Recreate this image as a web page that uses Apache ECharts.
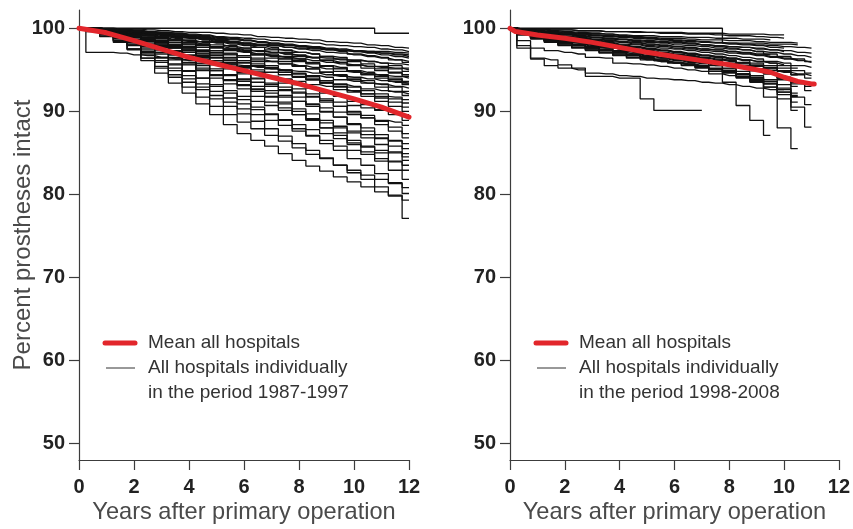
<!DOCTYPE html>
<html><head><meta charset="utf-8">
<script src="https://cdn.jsdelivr.net/npm/echarts@6/dist/echarts.min.js"></script>
<style>html,body{margin:0;padding:0;background:#fff}#c{width:853px;height:529px}</style>
</head><body><div id="c"></div>
<script>
// ---------- data ----------
const yearsHalf = [0,0.5,1,1.5,2,2.5,3,3.5,4,4.5,5,5.5,6,6.5,7,7.5,8,8.5,9,9.5,10,10.5,11,11.5,12];
const yTickValues = [50,60,70,80,90,100];
const xTickValues = [0,2,4,6,8,10,12];

const meanYearsA = [0,1,2,3,4,5,6,7,8,9,10,11,12];
const meanA = [100,99.45,98.5,97.5,96.5,95.7,94.9,94.1,93.3,92.4,91.5,90.5,89.3];
const meanYearsB = [0,0.2,1,2,3,4,5,6,7,8,9,9.5,10,10.5,11,11.1];
const meanB = [100,99.6,99.2,98.8,98.3,97.7,97.1,96.6,96.1,95.6,95.0,94.7,94.1,93.6,93.3,93.3];

// individual hospitals 1987-1997 (values every half year)
const hospitalsA = [
[100,100,100,100,100,100,100,100,100,100,100,100,100,100,100,100,100,100,100,100,100,100,99.4,99.4,99.4],
[100,97.1,97.1,97.0,96.8,96.7,96.5,96.3,96.1,96.0,95.8,95.6,95.5,95.3,95.1,94.9,94.8,94.6,94.4,94.2,94.1,93.9,93.7,93.5,93.4],
[100,100,100,99.9,99.9,99.8,99.7,99.6,99.5,99.5,99.4,99.3,99.2,99.0,98.9,98.8,98.7,98.6,98.4,98.3,98.2,98.0,97.9,97.7,97.6],
[100,100,99.9,99.8,99.7,99.6,99.5,99.4,99.3,99.2,99.0,98.9,98.8,98.7,98.5,98.4,98.3,98.2,98.0,97.9,97.8,97.7,97.5,97.4,97.2],
[100,99.9,99.8,99.7,99.6,99.4,99.2,99.0,98.8,98.6,98.4,98.3,98.1,98.0,97.9,97.7,97.6,97.5,97.4,97.3,97.2,97.1,97.0,96.9,96.8],
[100,100,99.9,99.8,99.6,99.5,99.4,99.2,99.1,98.9,98.7,98.6,98.5,98.3,98.1,98.0,97.8,97.7,97.5,97.3,97.2,97.0,96.8,96.6,96.4],
[100,100,99.9,99.8,99.8,99.6,99.5,99.4,99.2,99.1,98.9,98.8,98.6,98.4,98.2,98.0,97.8,97.6,97.4,97.2,96.9,96.7,96.5,96.2,96.0],
[100,99.9,99.8,99.6,99.4,99.2,98.9,98.6,98.4,98.1,97.8,97.6,97.4,97.2,97.1,96.9,96.7,96.5,96.4,96.2,96.1,96.0,95.8,95.7,95.6],
[100,100,99.9,99.7,99.5,99.3,99.1,98.9,98.8,98.6,98.3,98.1,97.9,97.7,97.5,97.3,97.1,96.9,96.6,96.5,96.2,96.0,95.8,95.5,95.2],
[100,100,99.9,99.8,99.7,99.5,99.4,99.2,99.0,98.8,98.6,98.4,98.2,97.9,97.7,97.4,97.1,96.9,96.6,96.3,96.0,95.7,95.4,95.1,94.8],
[100,99.9,99.8,99.7,99.4,99.2,99.0,98.8,98.5,98.3,98.0,97.8,97.6,97.3,97.1,96.9,96.6,96.4,96.1,95.9,95.6,95.4,95.1,94.7,94.4],
[100,99.9,99.7,99.5,99.2,98.9,98.5,98.1,97.8,97.4,97.1,96.8,96.5,96.2,96.0,95.7,95.5,95.3,95.1,94.8,94.7,94.5,94.3,94.2,94.0],
[100,99.9,99.8,99.6,99.4,99.1,98.9,98.6,98.3,98.1,97.8,97.5,97.3,96.9,96.7,96.4,96.1,95.8,95.5,95.3,94.9,94.7,94.4,94.0,93.6],
[100,99.9,99.9,99.7,99.6,99.4,99.2,99.0,98.7,98.4,98.2,97.9,97.6,97.3,96.9,96.6,96.3,95.9,95.5,95.2,94.8,94.4,94.0,93.6,93.2],
[100,99.9,99.6,99.4,99.1,98.6,98.2,97.8,97.3,96.9,96.5,96.1,95.8,95.5,95.2,94.9,94.6,94.3,94.1,93.8,93.6,93.4,93.2,93.0,92.8],
[100,99.9,99.8,99.5,99.2,98.9,98.6,98.3,98.0,97.7,97.3,97.0,96.7,96.4,96.0,95.7,95.4,95.1,94.7,94.4,94.0,93.7,93.3,92.9,92.4],
[100,99.9,99.8,99.7,99.5,99.3,99.0,98.8,98.5,98.1,97.8,97.5,97.2,96.8,96.4,96.0,95.5,95.1,94.7,94.3,93.8,93.4,92.9,92.4,91.9],
[100,99.8,99.6,99.2,98.9,98.4,97.9,97.3,96.8,96.3,95.8,95.4,94.9,94.6,94.2,93.9,93.6,93.2,93.0,92.6,92.4,92.1,91.8,91.7,91.4],
[100,99.9,99.7,99.5,99.1,98.7,98.4,98.0,97.7,97.3,96.9,96.5,96.1,95.7,95.3,95.0,94.5,94.2,93.7,93.3,92.9,92.5,92.1,91.5,91.0],
[100,99.9,99.7,99.4,99.1,98.7,98.3,97.9,97.5,97.2,96.7,96.3,95.9,95.4,95.1,94.7,94.2,93.8,93.4,93.0,92.5,92.1,91.6,91.1,90.5],
[100,99.9,99.8,99.6,99.4,99.1,98.8,98.5,98.1,97.7,97.3,96.9,96.5,96.0,95.5,95.0,94.5,94.0,93.4,92.9,92.3,91.8,91.2,90.6,90.0],
[100,99.8,99.5,99.1,98.7,98.0,97.4,96.8,96.2,95.5,94.9,94.4,93.9,93.5,93.0,92.6,92.2,91.8,91.5,91.1,90.7,90.4,90.1,89.9,89.6],
[100,99.9,99.7,99.3,98.9,98.5,98.0,97.6,97.1,96.7,96.1,95.7,95.2,94.7,94.2,93.8,93.2,92.8,92.2,91.8,91.2,90.8,90.2,89.6,88.9],
[100,99.8,99.4,99.0,98.5,97.8,97.1,96.4,95.7,95.0,94.3,93.7,93.1,92.6,92.2,91.7,91.2,90.8,90.4,89.9,89.6,89.2,88.9,88.7,88.3],
[100,99.9,99.6,99.2,98.7,98.2,97.7,97.2,96.7,96.2,95.6,95.1,94.5,93.9,93.4,92.9,92.3,91.7,91.1,90.6,90.0,89.5,88.8,88.1,87.3],
[100,99.9,99.7,99.5,99.2,98.8,98.4,98.0,97.5,97.0,96.4,95.9,95.4,94.7,94.1,93.4,92.7,92.1,91.3,90.6,89.8,89.2,88.4,87.6,86.8],
[100,99.7,99.3,98.8,98.2,97.4,96.5,95.7,94.9,94.0,93.2,92.5,91.8,91.2,90.7,90.1,89.6,89.0,88.6,88.0,87.6,87.2,86.8,86.5,86.1],
[100,99.9,99.6,99.1,98.6,98.0,97.4,96.8,96.2,95.7,94.9,94.3,93.8,93.0,92.5,91.9,91.2,90.6,89.9,89.3,88.5,88.0,87.2,86.4,85.5],
[100,99.8,99.7,99.4,99.1,98.6,98.2,97.7,97.1,96.5,95.9,95.3,94.7,94.0,93.2,92.5,91.7,90.9,90.0,89.3,88.4,87.6,86.7,85.8,84.9],
[100,99.7,99.2,98.6,98.0,97.1,96.1,95.2,94.3,93.3,92.4,91.6,90.9,90.2,89.6,89.0,88.4,87.8,87.3,86.7,86.2,85.7,85.3,85.0,84.5],
[100,99.8,99.5,99.0,98.4,97.8,97.1,96.5,95.9,95.2,94.4,93.8,93.2,92.4,91.7,91.1,90.3,89.7,88.9,88.2,87.4,86.8,86.0,85.1,84.1],
[100,99.7,99.2,98.5,97.9,96.9,95.9,94.9,93.9,92.9,91.9,91.1,90.3,89.6,88.9,88.3,87.6,87.0,86.5,85.8,85.3,84.8,84.3,84.0,83.5],
[100,99.8,99.5,99.0,98.3,97.6,96.9,96.2,95.6,94.9,94.0,93.3,92.7,91.8,91.1,90.4,89.6,88.9,88.0,87.4,86.5,85.8,85.0,83.9,82.9],
[100,99.8,99.6,99.3,98.9,98.4,97.8,97.3,96.5,95.8,95.1,94.4,93.6,92.7,91.8,90.9,90.0,89.1,88.0,87.1,86.0,85.1,84.0,82.9,81.8],
[100,99.6,99.0,98.3,97.5,96.4,95.2,94.1,92.9,91.7,90.6,89.6,88.7,87.9,87.1,86.4,85.6,84.8,84.3,83.5,82.9,82.3,81.8,81.4,80.8],
[100,99.8,99.4,98.8,98.0,97.2,96.4,95.6,94.8,94.0,93.0,92.2,91.4,90.5,89.7,88.9,87.9,87.1,86.1,85.3,84.3,83.5,82.5,81.3,80.1],
[100,99.8,99.3,98.5,97.5,96.1,94.6,93.4,92.2,90.9,89.6,88.4,87.3,86.5,85.8,84.9,84.1,83.4,82.8,82.1,81.5,80.9,80.3,79.8,79.3],
[100,99.7,99.2,98.4,97.4,96.4,95.4,94.4,93.5,92.6,91.5,90.6,89.7,88.8,87.9,87.0,86.1,85.3,84.4,83.5,82.6,81.8,80.9,79.9,77.1],
[100,100,99.9,99.8,99.6,99.4,99.3,99.1,98.9,98.8,98.6,98.4,98.2,98.0,97.9,97.7,97.5,97.3,97.1,97.0,96.8,96.6,96.4,96.2,95.9],
[100,99.9,99.8,99.6,99.4,99.1,98.8,98.5,98.2,97.9,97.6,97.3,97.1,96.9,96.7,96.5,96.3,96.1,95.9,95.7,95.6,95.4,95.3,95.2,95.0],
[100,99.9,99.9,99.8,99.7,99.5,99.3,99.1,98.9,98.7,98.4,98.2,98.0,97.7,97.4,97.1,96.8,96.5,96.2,95.9,95.5,95.2,94.9,94.6,94.2],
[100,99.9,99.8,99.6,99.3,99.1,98.8,98.6,98.3,98.0,97.7,97.4,97.2,96.8,96.6,96.3,96.0,95.7,95.4,95.1,94.8,94.5,94.2,93.8,93.4],
[100,99.8,99.6,99.3,99.0,98.5,98.0,97.6,97.1,96.6,96.1,95.7,95.3,95.0,94.7,94.4,94.1,93.8,93.5,93.2,93.0,92.7,92.5,92.3,92.1],
[100,100,99.9,99.8,99.7,99.5,99.4,99.3,99.1,99.0,98.8,98.7,98.5,98.4,98.2,98.1,97.9,97.8,97.6,97.5,97.3,97.2,97.0,96.8,96.6],
[100,99.9,99.8,99.7,99.6,99.4,99.2,99.1,98.9,98.7,98.5,98.4,98.2,98.1,98.0,97.9,97.8,97.6,97.5,97.4,97.3,97.2,97.2,97.1,97.0]
];

// individual hospitals 1998-2008 (values every half year, until end of follow-up)
const hospitalsB = [
[100,100,100,100,100,100,100,100,100,100,100,100,100,100,100,100,98.2,98.2,98.2,98.1,98.1,98.0],
[100,99.9,99.9,99.8,99.8,99.7,99.7,99.6,99.6,99.6,99.5,99.5,99.5,99.4,99.4,99.4,99.3,99.3,99.3,99.2,99.2],
[100,99.8,99.7,99.6,99.5,99.4,99.4,99.3,99.2,99.1,99.1,99.0,99.0,98.9,98.9,98.8,98.8,98.7,98.7,98.6],
[100,99.8,99.6,99.5,99.4,99.3,99.2,99.1,99.0,99.0,98.9,98.8,98.8,98.7,98.6,98.6,98.5,98.5,98.4,98.3,98.3,98.2],
[100,99.7,99.5,99.4,99.2,99.1,98.9,98.8,98.7,98.5,98.4,98.3,98.2,98.1,98.0,97.9,97.8,97.7,97.6,97.4,97.3,97.1,97.0],
[100,99.6,99.4,99.2,99.0,98.8,98.6,98.4,98.3,98.1,97.9,97.8,97.6,97.5,97.3,97.2,97.0,96.9,96.7,96.5,96.3,96.1,95.9],
[100,99.5,99.3,99.1,98.8,98.6,98.4,98.2,98.0,97.8,97.6,97.4,97.2,97.0,96.8,96.6,96.4,96.2,96.0,95.8,95.5,95.2],
[100,99.7,99.5,99.3,99.2,99.0,98.9,98.7,98.6,98.4,98.3,98.2,98.0,97.9,97.8,97.6,97.5,97.4,97.2,97.1,96.9,96.7,96.5],
[100,99.8,99.6,99.5,99.3,99.2,99.1,99.0,98.9,98.8,98.7,98.6,98.5,98.4,98.3,98.2,98.1,98.0,97.9,97.7,97.6],
[100,99.5,99.2,98.9,98.7,98.5,98.3,98.1,97.9,97.7,97.5,97.3,97.1,96.9,96.7,96.5,96.3,96.1,95.8,95.5,95.2,94.9,94.6],
[100,99.6,99.4,99.2,99.0,98.9,98.7,98.6,98.4,98.3,98.1,98.0,97.8,97.7,97.5,97.4,97.2,97.0,96.8,96.6,96.4,96.2],
[100,99.4,99.1,98.9,98.7,98.5,98.3,98.1,97.9,97.7,97.5,97.3,97.1,96.9,96.7,96.6,96.4,96.2,96.0,95.8,95.6],
[100,99.5,99.2,98.9,98.6,98.3,98.1,97.9,97.6,97.4,97.2,97.0,96.8,96.6,96.4,96.2,96.0,95.7,95.4,95.1,94.8,94.4,94.0],
[100,99.4,99.0,98.7,98.4,98.1,97.9,97.7,97.5,97.2,97.0,96.8,96.6,96.4,96.2,96.0,95.7,95.4,95.0,94.6,94.1,93.6],
[100,99.3,98.9,98.6,98.3,98.0,97.8,97.6,97.3,97.1,96.9,96.7,96.5,96.3,96.1,95.9,95.6,95.3,94.9,94.5,94.0,93.5,93.0],
[100,99.3,98.9,98.6,98.3,98.0,97.7,97.4,97.1,96.8,96.6,96.3,96.1,95.9,95.7,95.5,95.2,94.8,94.3,93.8,93.2,92.2],
[100,99.2,98.8,98.4,98.0,97.7,97.4,97.1,96.8,96.5,96.2,96.0,95.8,95.6,95.4,95.1,94.8,94.4,93.9,93.3,92.3,91.1],
[100,99.4,99.0,98.7,98.4,98.1,97.8,97.5,97.2,96.9,96.6,96.4,96.2,96.0,95.8,95.5,95.1,94.5,93.8,92.9,91.5,90.1],
[100,99.3,98.9,98.5,98.2,97.9,97.6,97.3,97.0,96.7,96.4,96.1,95.9,95.7,95.4,95.1,94.7,94.2,93.6,92.9,92.0,90.5,88.1],
[100,99.4,99.0,98.6,98.3,98.0,97.7,97.4,97.1,96.8,96.5,96.2,95.9,95.6,95.3,95.0,94.6,94.1,93.5,91.7,88.0,85.5],
[100,99.3,98.9,98.5,98.2,97.9,97.6,97.3,97.0,96.7,96.4,96.1,95.8,95.5,95.2,94.8,93.5,90.7,88.9,87.1],
[100,97.6,96.3,95.5,95.2,95.0,94.2,94.2,94.0,94.0,91.5,90.1,90.1,90.1,90.1],
[100,97.9,96.4,96.2,95.6,95.2,94.6,94.5,94.3,94.2,94.0,93.9,93.8,93.7,93.5,93.4,93.2,93.0,92.8,92.6,92.3,91.9],
[100,98.5,97.6,97.3,97.1,96.9,96.5,96.4,95.8,95.7,95.6,95.4,95.2,95.0,94.8,94.5,94.3,94.0,93.7,93.3,92.6],
[100,99.7,99.5,99.3,99.2,99.0,98.9,98.8,98.7,98.6,98.5,98.4,98.3,98.2,98.0,97.9,97.8,97.7,97.5,97.4,97.2],
[100,99.6,99.3,99.1,98.9,98.7,98.5,98.3,98.1,98.0,97.8,97.6,97.5,97.3,97.1,96.9,96.7,96.5,96.3,96.0,95.8,95.5,95.3],
[100,99.5,99.2,99.0,98.7,98.5,98.3,98.1,97.9,97.7,97.5,97.3,97.1,96.9,96.7,96.5,96.2,95.9,95.6,95.3,94.9,94.4],
[100,99.6,99.4,99.2,99.0,98.8,98.7,98.5,98.4,98.2,98.1,97.9,97.8,97.6,97.5,97.4,97.2,97.1,96.9,96.8],
[100,99.8,99.6,99.5,99.4,99.3,99.2,99.1,99.0,98.9,98.8,98.7,98.6,98.5,98.4,98.3,98.2,98.1,98.0,97.9,97.8,97.7,97.6],
[100,99.4,99.1,98.8,98.6,98.3,98.1,97.9,97.7,97.5,97.3,97.1,96.9,96.7,96.5,96.3,96.1,95.8,95.5,95.2,94.9],
[100,99.5,99.1,98.8,98.5,98.3,98.1,97.8,97.6,97.4,97.2,97.0,96.8,96.6,96.4,96.1,95.8,95.5,95.1,94.6,94.0,93.3,92.5],
[100,99.4,99.0,98.7,98.4,98.2,98.0,97.7,97.5,97.3,97.0,96.8,96.6,96.4,96.1,95.9,95.6,95.3,94.9,94.5,93.8,93.0],
[100,99.9,99.8,99.7,99.6,99.5,99.4,99.3,99.1,99.0,98.8,98.6,98.4,98.2,98.0,97.8,97.6,97.4,97.2,96.9,96.6,96.3,96.0],
[100,99.9,99.9,99.8,99.8,99.7,99.7,99.6,99.6,99.5,99.5,99.4,99.4,99.3,99.3,99.2,99.1,99.1,99.0,98.9,98.8],
[100,99.3,98.9,98.5,98.2,97.9,97.6,97.3,97.1,96.9,96.7,96.5,96.3,96.1,95.9,95.7,95.5,95.3,95.1,94.9,94.7,94.5,94.3],
[100,99.2,98.7,98.3,97.9,97.6,97.3,97.0,96.7,96.4,96.2,96.0,95.8,95.6,95.4,95.1,94.8,94.5,94.1,93.6,92.8,91.8],
[100,99.3,98.8,98.4,98.0,97.7,97.4,97.1,96.8,96.5,96.3,96.1,95.9,95.7,95.5,95.2,94.9,94.5,94.0,93.4,92.6,91.7,90.8]
];

const legendMean = 'Mean all hospitals';
const legendIndiv = 'All hospitals individually';
const periodA = 'in the period 1987-1997';
const periodB = 'in the period 1998-2008';
const xTitle = 'Years after primary operation';
const yTitle = 'Percent prostheses intact';

// ---------- chart ----------
const FONT = '"Liberation Sans", Arial, Helvetica, sans-serif';
const AX = '#3c3c3c';
const RED = '#e2262b';
const LINE = '#111111';

function pairs(xs, ys) { return ys.map((v, i) => [xs[i], v]); }

function xAxisFor(g) {
  return {
    type: 'value', gridIndex: g, min: 0, max: 12, interval: 2,
    axisLine: { show: true, onZero: false, lineStyle: { color: AX, width: 1.2 } },
    axisTick: { show: true, length: 10, customValues: xTickValues, lineStyle: { color: AX, width: 1.2 } },
    axisLabel: { customValues: xTickValues, fontSize: 20, fontWeight: 'bold', color: '#222', margin: 17, fontFamily: FONT },
    splitLine: { show: false },
    name: xTitle, nameLocation: 'middle', nameGap: 40, nameMoveOverlap: false,
    nameTextStyle: { fontSize: 23.6, color: '#4a4a4a', fontFamily: FONT }
  };
}
function yAxisFor(g, withName) {
  return {
    type: 'value', gridIndex: g, min: 48, max: 102.2,
    axisLine: { show: true, onZero: false, lineStyle: { color: AX, width: 1.2 } },
    axisTick: { show: true, length: 10, customValues: yTickValues, lineStyle: { color: AX, width: 1.2 } },
    axisLabel: { customValues: yTickValues, fontSize: 20, fontWeight: 'bold', color: '#222', margin: 14, fontFamily: FONT },
    splitLine: { show: false },
    name: withName ? yTitle : '', nameLocation: 'middle', nameGap: 44, nameRotate: 90, nameMoveOverlap: false,
    nameTextStyle: { fontSize: 24, color: '#4a4a4a', fontFamily: FONT }
  };
}

const series = [];
hospitalsA.forEach((h) => series.push({
  type: 'line', xAxisIndex: 0, yAxisIndex: 0, data: pairs(yearsHalf, h), step: 'middle',
  showSymbol: false, symbol: 'none', silent: true, z: 2,
  lineStyle: { color: LINE, width: 1.3 }
}));
hospitalsB.forEach((h) => series.push({
  type: 'line', xAxisIndex: 1, yAxisIndex: 1, data: pairs(yearsHalf, h), step: 'middle',
  showSymbol: false, symbol: 'none', silent: true, z: 2,
  lineStyle: { color: LINE, width: 1.3 }
}));
series.push({
  type: 'line', xAxisIndex: 0, yAxisIndex: 0, data: pairs(meanYearsA, meanA),
  showSymbol: false, symbol: 'none', silent: true, z: 5,
  lineStyle: { color: RED, width: 5, cap: 'round', join: 'round' }
});
series.push({
  type: 'line', xAxisIndex: 1, yAxisIndex: 1, data: pairs(meanYearsB, meanB),
  showSymbol: false, symbol: 'none', silent: true, z: 5,
  lineStyle: { color: RED, width: 5, cap: 'round', join: 'round' }
});

function legendGraphics(x0, period) {
  return [
    { type: 'line', shape: { x1: x0, y1: 343, x2: x0 + 30, y2: 343 }, style: { stroke: RED, lineWidth: 5, lineCap: 'round' } },
    { type: 'text', x: x0 + 43, y: 343, style: { text: legendMean, fontSize: 19, fontFamily: FONT, fill: '#333', verticalAlign: 'middle' } },
    { type: 'line', shape: { x1: x0 + 1, y1: 368, x2: x0 + 30, y2: 368 }, style: { stroke: '#333', lineWidth: 1 } },
    { type: 'text', x: x0 + 43, y: 355.5, style: { text: legendIndiv + '\n' + period, fontSize: 19, lineHeight: 25, fontFamily: FONT, fill: '#333', verticalAlign: 'top' } }
  ];
}

const chart = echarts.init(document.getElementById('c'), null, { renderer: 'canvas' });
chart.setOption({
  animation: false,
  backgroundColor: '#fff',
  grid: [
    { left: 79, top: 10, width: 330, height: 450, containLabel: false },
    { left: 510, top: 10, width: 329, height: 450, containLabel: false }
  ],
  xAxis: [xAxisFor(0), xAxisFor(1)],
  yAxis: [yAxisFor(0, true), yAxisFor(1, false)],
  series: series,
  graphic: legendGraphics(105, periodA).concat(legendGraphics(536, periodB))
});
</script>
</body></html>
